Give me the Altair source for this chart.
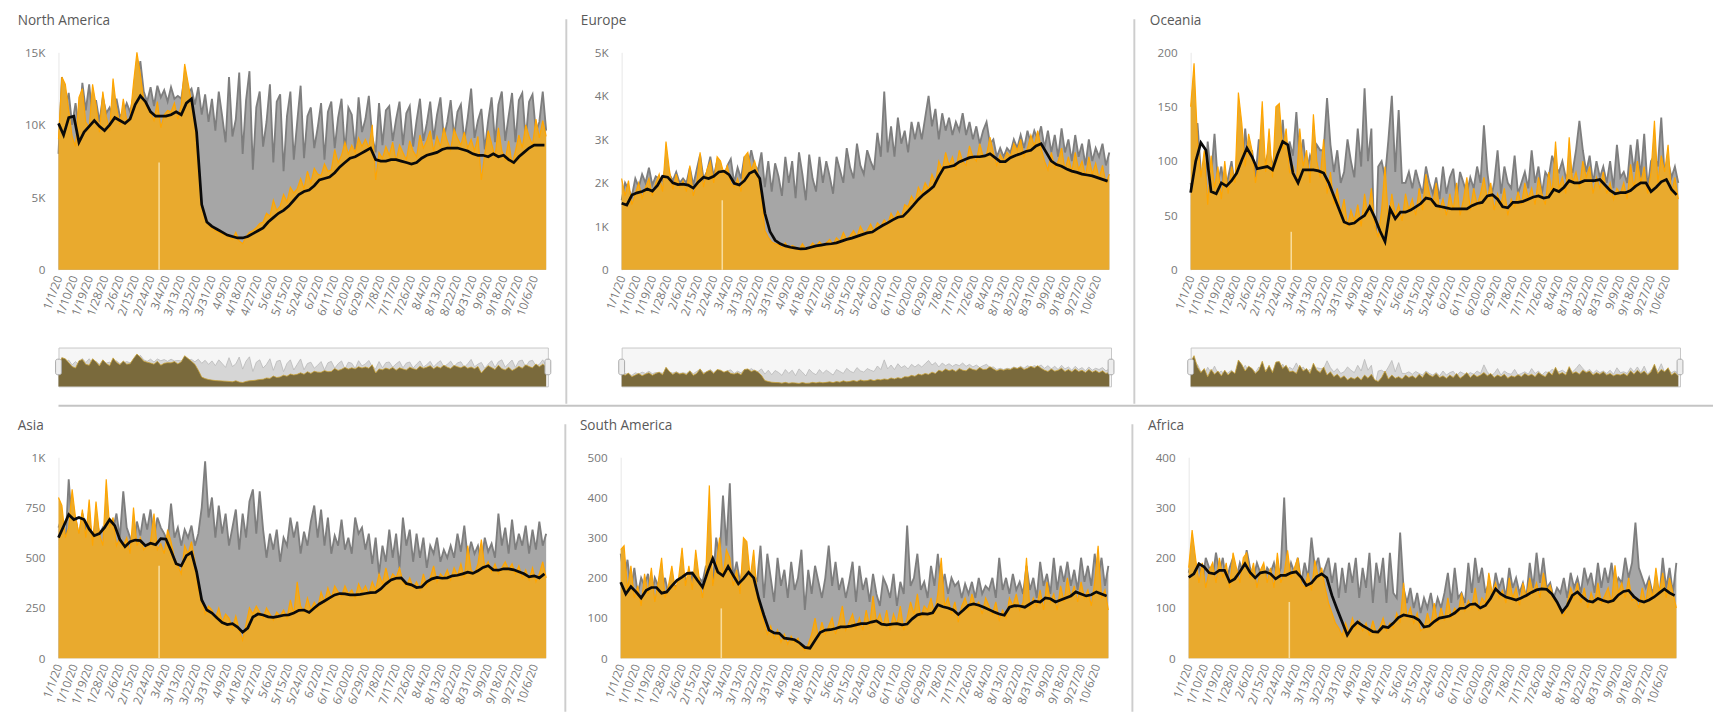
import altair as alt
import pandas as pd

# ---------------- data ----------------
START = pd.Timestamp("2020-01-01")
DAILY_STEP = 2   # daily series sampled every 2 days
AVG_STEP = 3     # 7-day average sampled every 3 days

REGIONS = ["North America", "Europe", "Oceania", "Asia", "South America", "Africa"]

NA_2019 = [8000, 13300, 11200, 12200, 10000, 11500, 9800, 12900, 11000, 12800,
           10500, 11700, 10200, 11900, 10800, 11200, 10500, 11800, 10600, 10800,
           11500, 10900, 11900, 12800, 14400, 12300, 11600, 12600, 11300, 12700,
           11900, 12400, 11600, 12600, 11800, 12000, 11800, 13400, 12200, 12500,
           11400, 12600, 10700, 12100, 10200, 11800, 9600, 12300, 10600, 8800,
           13300, 9200, 10400, 13600, 8000, 11700, 13700, 6900, 11200, 12300,
           8500, 10200, 12800, 7400, 11600, 12100, 6800, 10600, 12300, 7600,
           10200, 12700, 7700, 10600, 11200, 8400, 9800, 11500, 7600, 10900,
           11600, 8400, 10500, 11800, 8100, 11200, 10700, 8300, 11900, 9500,
           10400, 12000, 9200, 8100, 11500, 8600, 11000, 11300, 8900, 10400,
           11600, 8600, 10800, 11300, 8500, 10300, 11800, 8900, 10100, 11600,
           9000, 10700, 11900, 9100, 10200, 11700, 9200, 10900, 11400, 8900,
           10500, 12500, 9100, 10300, 11100, 8300, 10300, 11900, 8800, 11400,
           12300, 8900, 10600, 12200, 8800, 11700, 12200, 9000, 11600, 12100,
           9500, 10200, 12300, 9600]
NA_2020 = [9000, 13300, 12800, 11000, 9200, 8500, 11900, 12500, 10200, 9800,
           12800, 11400, 9500, 12300, 10600, 9600, 13200, 11200, 10000, 11800,
           10300, 10500, 12900, 15000, 13500, 11700, 11200, 10800, 10300, 11600,
           9800, 10700, 11000, 10900, 11500, 10400, 11400, 14200, 12900, 11600,
           10200, 7500, 4300, 3600, 3200, 2900, 2700, 2600, 2500, 2400,
           2300, 2100, 2600, 2000, 1800, 2300, 2600, 2700, 2900, 3200,
           3300, 3900, 3700, 4800, 4100, 4400, 5200, 4700, 5700, 5300,
           5600, 6300, 5600, 6800, 6000, 7000, 6600, 6500, 7300, 6800,
           6900, 8300, 7400, 7900, 8800, 8000, 8600, 8100, 9100, 8500,
           9000, 8400, 10000, 6200, 8100, 7700, 8500, 7900, 8800, 7500,
           8600, 8100, 7600, 8900, 8200, 7800, 9300, 8400, 8900, 9600,
           8200, 9200, 8500, 9800, 8900, 8300, 9700, 9100, 8600, 9500,
           8400, 9000, 8200, 9200, 6200, 8000, 9600, 8700, 7800, 9800,
           8200, 7600, 8900, 7300, 8200, 9300, 8400, 10000, 9200, 8600,
           10400, 9100, 10300, 9200]
NA_AVG = [10100, 9300, 10500, 10600, 8800, 9500, 9900, 10300, 9900, 9600,
          10000, 10500, 10300, 10100, 10400, 11400, 12000, 11600, 10900, 10600,
          10600, 10600, 10700, 10900, 10700, 11500, 11800, 9500, 4500, 3300,
          3000, 2800, 2600, 2400, 2300, 2200, 2200, 2300, 2500, 2700,
          2900, 3300, 3600, 3900, 4100, 4400, 4800, 5200, 5400, 5500,
          5800, 6200, 6300, 6400, 6700, 7100, 7400, 7700, 7800, 8000,
          8200, 8400, 7600, 7500, 7500, 7600, 7600, 7500, 7400, 7300,
          7400, 7700, 7900, 8000, 8100, 8300, 8400, 8400, 8400, 8300,
          8200, 8000, 7900, 7900, 7800, 8000, 7800, 7900, 7600, 7400,
          7800, 8100, 8400, 8600, 8600, 8600]

EU_2019 = [1600, 2000, 1850, 1700, 2100, 1900, 2200, 2000, 2350, 1950,
           2150, 2100, 2050, 2400, 2200, 2050, 2250, 2000, 2100, 2000,
           2350, 1950, 2300, 2650, 2100, 2250, 2600, 2150, 2500, 2300,
           2100, 2400, 2550, 2000, 2350, 2100, 2600, 2350, 2750, 2400,
           2300, 2700, 1900, 2500, 1800, 2450, 2150, 1700, 2600, 2000,
           2500, 1650, 2700, 2200, 1600, 2650, 2100, 1800, 2600, 2000,
           2500, 2150, 1750, 2600, 2300, 2000, 2800, 2350, 2100, 2900,
           2400, 2200, 2750, 2500, 2300, 3150, 2600, 4100, 2700, 3300,
           2600, 3500, 2900, 3200, 2700, 3400, 3000, 3400, 3000, 3500,
           4000, 3300, 3700, 3000, 3600, 3200, 3500, 3100, 3400, 3200,
           3600, 3100, 3400, 3000, 3300, 2900, 3200, 3400, 2900, 3000,
           2600, 2800, 2600, 2800, 2700, 3000, 2800, 3100, 2800, 3200,
           2900, 3200, 3000, 3300, 2800, 3200, 2700, 3100, 2600, 3250,
           2700, 3000, 2500, 3100, 2600, 2900, 2400, 3000, 2500, 2800,
           2600, 2900, 2400, 2700]
EU_2020 = [2100, 1700, 2050, 1500, 1750, 2000, 1650, 1900, 2100, 1700,
           2000, 2200, 1800, 2950, 2300, 1850, 2200, 1900, 2050, 1800,
           2400, 1700, 2000, 2700, 1900, 2300, 2500, 2000, 2600, 2500,
           2200, 2400, 2000, 1900, 2100, 1800, 2600, 2700, 2300, 2500,
           2200, 1700, 900, 750, 640, 600, 580, 500, 620, 480,
           560, 520, 450, 600, 470, 500, 620, 540, 650, 560,
           620, 700, 580, 740, 650, 860, 700, 780, 900, 760,
           1000, 850, 900, 1050, 880, 1080, 1000, 1150, 1050, 1300,
           1150, 1350, 1200, 1500, 1450, 1700, 1550, 1900, 1750, 2000,
           1850, 2200, 2000, 2500, 2300, 2700, 2400, 2600, 2300, 2750,
           2500, 2400, 2850, 2600, 2500, 2900, 2600, 2650, 3050, 2700,
           2400, 2650, 2500, 2700, 2600, 2900, 2750, 3000, 2600, 2800,
           3100, 2850, 3200, 2800, 2500, 2300, 2700, 2350, 2500, 2800,
           2300, 2600, 2250, 2700, 2300, 2500, 2150, 2600, 2200, 2450,
           2100, 2400, 2000, 2200]
EU_AVG = [1530, 1490, 1720, 1770, 1800, 1860, 1810, 1940, 2150, 2130,
          2000, 1960, 1970, 1950, 1880, 2020, 2130, 2100, 2150, 2250,
          2270, 2190, 1990, 1950, 2050, 2220, 2280, 2100, 1300, 880,
          680, 600, 550, 520, 500, 480, 490, 520, 550, 570,
          590, 600, 620, 660, 700, 730, 770, 810, 850, 870,
          950, 1020, 1080, 1150, 1210, 1230, 1350, 1480, 1620, 1730,
          1820, 1920, 2150, 2350, 2370, 2400, 2480, 2530, 2580, 2600,
          2600, 2620, 2670, 2580, 2490, 2490, 2580, 2630, 2670, 2720,
          2750, 2850, 2900, 2700, 2500, 2420, 2380, 2320, 2270, 2240,
          2200, 2180, 2160, 2120, 2080, 2040]

OC_2019 = [80, 60, 135, 90, 70, 118, 85, 125, 80, 95,
           70, 85, 100, 75, 105, 90, 130, 95, 110, 85,
           120, 90, 100, 110, 95, 115, 100, 138, 95, 118,
           105, 145, 100, 120, 90, 105, 95, 115, 110, 110,
           158, 115, 90, 110, 80, 90, 120, 100, 85, 130,
           95, 167, 100, 130, 5, 95, 100, 85, 120, 160,
           90, 147, 80, 80, 90, 75, 92, 80, 70, 95,
           80, 70, 85, 65, 95, 70, 85, 93, 65, 90,
           80, 70, 85, 75, 95, 80, 133, 90, 65, 80,
           110, 70, 95, 80, 75, 105, 70, 80, 90, 75,
           110, 80, 95, 70, 90, 85, 105, 95, 90, 100,
           85, 90, 90, 110, 137, 110, 90, 105, 80, 100,
           85, 95, 80, 100, 75, 115, 85, 90, 80, 115,
           90, 120, 85, 125, 75, 100, 105, 95, 140, 85,
           100, 85, 95, 80]
OC_2020 = [150, 190, 120, 85, 110, 60, 105, 75, 95, 65,
           100, 70, 95, 80, 163, 135, 95, 125, 110, 80,
           100, 155, 90, 130, 85, 150, 153, 110, 130, 90,
           95, 80, 130, 95, 110, 80, 143, 100, 85, 120,
           70, 90, 60, 75, 50, 65, 40, 55, 45, 60,
           40, 70, 50, 75, 40, 30, 55, 95, 45, 70,
           50, 60, 45, 70, 55, 65, 50, 75, 55, 88,
           70, 60, 80, 55, 65, 50, 70, 55, 80, 50,
           65, 85, 55, 75, 60, 70, 85, 65, 80, 55,
           70, 60, 75, 50, 65, 58, 72, 60, 80, 66,
           75, 60, 85, 70, 60, 90, 70, 118, 75, 85,
           70, 122, 80, 90, 75, 100, 85, 95, 70, 85,
           75, 90, 70, 80, 65, 75, 70, 80, 65, 97,
           75, 100, 80, 95, 70, 90, 137, 80, 105, 90,
           115, 70, 85, 65]
OC_AVG = [71, 100, 117, 110, 72, 70, 80, 77, 82, 89,
          101, 112, 104, 93, 94, 95, 92, 106, 118, 115,
          89, 80, 92, 92, 92, 91, 89, 80, 68, 56,
          44, 42, 43, 47, 50, 58, 48, 36, 26, 56,
          47, 53, 53, 55, 58, 61, 66, 65, 59, 58,
          57, 56, 56, 56, 56, 59, 61, 62, 68, 69,
          65, 58, 57, 62, 62, 63, 65, 67, 68, 66,
          67, 74, 72, 76, 82, 80, 80, 82, 82, 82,
          83, 78, 73, 70, 71, 71, 73, 77, 80, 80,
          72, 76, 81, 83, 74, 69]

AS_2019 = [650, 700, 560, 890, 650, 700, 600, 720, 650, 690,
           580, 700, 620, 650, 600, 680, 640, 720, 600, 830,
           650, 600, 560, 680, 610, 720, 640, 740, 600, 700,
           650, 620, 580, 770, 600, 650, 560, 640, 600, 660,
           560, 620, 750, 980, 700, 800, 600, 760, 620, 720,
           560, 650, 740, 540, 720, 600, 780, 840, 620, 830,
           640, 500, 620, 540, 640, 480, 600, 560, 700, 600,
           680, 520, 630, 560, 680, 760, 600, 740, 560, 700,
           520, 610, 560, 690, 540, 600, 520, 700, 620, 650,
           540, 620, 470, 600, 420, 560, 480, 640, 500, 620,
           450, 700, 560, 640, 480, 620, 500, 600, 450, 560,
           520, 600, 480, 540, 500, 560, 500, 620, 530, 660,
           500, 580, 520, 560, 480, 600, 530, 570, 500, 720,
           560, 650, 520, 690, 540, 620, 560, 660, 520, 640,
           540, 680, 560, 620]
AS_2020 = [800, 760, 600, 650, 840, 700, 620, 740, 600, 790,
           560, 780, 620, 560, 890, 650, 700, 560, 600, 560,
           600, 520, 750, 560, 600, 540, 560, 580, 720, 540,
           570, 520, 640, 580, 500, 460, 420, 560, 520, 580,
           480, 340, 300, 220, 260, 240, 200, 250, 180, 220,
           200, 150, 210, 140, 90, 170, 250, 220, 260, 230,
           200, 250, 220, 190, 230, 210, 240, 200, 290, 220,
           380, 260, 230, 300, 240, 280, 250, 330, 280, 350,
           300, 360, 330, 310, 360, 320, 340, 300, 370, 330,
           360, 320, 380, 340, 420, 370, 450, 380, 420, 400,
           450, 380, 360, 400, 350, 380, 340, 420, 360, 400,
           460, 380, 420, 400, 440, 390, 450, 410, 470, 400,
           560, 440, 420, 470, 590, 450, 480, 430, 470, 420,
           450, 480, 440, 470, 420, 460, 400, 440, 390, 450,
           380, 420, 480, 400]
AS_AVG = [600, 657, 715, 690, 700, 690, 642, 610, 620, 650,
          690, 660, 590, 555, 580, 588, 585, 560, 572, 565,
          595, 593, 535, 470, 460, 510, 527, 430, 290, 240,
          225, 200, 178, 168, 172, 155, 130, 150, 205, 220,
          215, 206, 203, 208, 214, 216, 225, 238, 240, 228,
          250, 270, 285, 300, 315, 322, 320, 315, 315, 318,
          322, 326, 328, 345, 370, 390, 398, 400, 372, 365,
          352, 355, 380, 395, 402, 398, 400, 410, 413, 420,
          428, 422, 435, 452, 460, 440, 438, 445, 445, 440,
          430, 420, 405, 410, 400, 420]

SA_2019 = [260, 200, 245, 170, 225, 160, 200, 180, 210, 150,
           200, 180, 170, 200, 160, 190, 180, 170, 220, 200,
           180, 210, 160, 200, 190, 230, 200, 180, 300, 250,
           405, 280, 435, 200, 240, 190, 230, 250, 160, 210,
           190, 280, 150, 260, 200, 140, 250, 180, 220, 150,
           240, 170, 200, 270, 120, 220, 160, 230, 190, 150,
           200, 280, 180, 240, 170, 200, 150, 190, 240, 140,
           230, 170, 200, 140, 210, 160, 130, 200, 180, 150,
           210, 130, 190, 160, 330, 180, 200, 260, 170, 190,
           150, 230, 180, 260, 170, 210, 160, 200, 180, 190,
           150, 185, 160, 190, 150, 200, 160, 180, 170, 200,
           150, 250, 170, 200, 160, 210, 170, 190, 160, 230,
           170, 200, 150, 240, 180, 210, 160, 250, 170, 230,
           190, 240, 180, 220, 170, 250, 190, 230, 180, 260,
           200, 250, 180, 230]
SA_2020 = [270, 280, 170, 230, 150, 180, 130, 210, 160, 225,
           140, 190, 250, 150, 180, 230, 170, 200, 275, 180,
           230, 170, 270, 200, 150, 220, 430, 180, 230, 300,
           200, 270, 250, 180, 220, 160, 300, 290, 200, 270,
           160, 120, 90, 60, 80, 50, 70, 40, 60, 35,
           55, 40, 50, 30, 20, 35, 60, 100, 50, 90,
           60, 80, 100, 60, 90, 130, 70, 90, 110, 75,
           100, 70, 120, 80, 155, 90, 110, 80, 120, 70,
           110, 85, 130, 70, 100, 140, 110, 160, 100, 130,
           120, 150, 110, 160, 250, 130, 150, 110, 140, 90,
           130, 150, 120, 160, 130, 140, 110, 150, 130, 110,
           140, 95, 120, 100, 150, 130, 160, 120, 140, 250,
           120, 150, 130, 170, 120, 190, 140, 160, 120, 180,
           140, 200, 150, 180, 140, 190, 150, 170, 130, 190,
           280, 150, 170, 120]
SA_AVG = [189, 160, 178, 165, 150, 169, 176, 176, 162, 165,
          180, 194, 202, 211, 212, 194, 177, 215, 248, 214,
          205, 228, 206, 185, 198, 214, 200, 148, 107, 70,
          63, 62, 50, 48, 46, 38, 27, 25, 45, 64,
          70, 71, 74, 78, 78, 80, 83, 86, 86, 90,
          93, 85, 83, 85, 86, 83, 85, 98, 108, 111,
          110, 113, 133, 128, 125, 120, 109, 120, 132, 135,
          132, 127, 121, 115, 110, 107, 127, 131, 130, 127,
          135, 142, 140, 150, 148, 140, 145, 150, 155, 165,
          160, 155, 158, 165, 160, 155]

AF_2019 = [170, 200, 160, 190, 150, 200, 180, 160, 210, 170,
           200, 150, 180, 200, 160, 190, 170, 215, 180, 160,
           190, 170, 150, 180, 170, 190, 160, 180, 320, 160,
           190, 170, 200, 150, 190, 160, 240, 180, 200, 160,
           180, 200, 150, 190, 120, 180, 130, 190, 150, 200,
           120, 180, 140, 210, 110, 190, 150, 200, 110, 210,
           130, 120, 250, 140, 110, 140, 100, 130, 90, 120,
           100, 130, 90, 120, 100, 130, 170, 110, 180, 120,
           130, 110, 190, 130, 200, 150, 180, 130, 150, 120,
           170, 140, 160, 120, 180, 140, 160, 130, 150, 120,
           190, 140, 210, 150, 200, 140, 150, 120, 140, 130,
           160, 120, 170, 140, 160, 130, 180, 150, 170, 130,
           190, 140, 180, 150, 190, 140, 160, 150, 200, 160,
           190, 270, 180, 160, 140, 160, 130, 150, 120, 200,
           140, 180, 130, 190]
AF_2020 = [180, 255, 200, 150, 190, 140, 175, 190, 150, 200,
           160, 190, 140, 210, 180, 150, 200, 210, 160, 190,
           140, 175, 190, 150, 180, 140, 210, 150, 170, 215,
           160, 180, 200, 150, 140, 170, 135, 195, 160, 180,
           140, 110, 90, 70, 60, 45, 70, 50, 80, 60,
           75, 55, 70, 45, 75, 50, 60, 80, 55, 70,
           60, 90, 70, 150, 80, 100, 70, 90, 55, 60,
           90, 65, 110, 70, 100, 75, 120, 80, 100, 90,
           130, 95, 115, 100, 140, 95, 120, 110, 170, 130,
           150, 120, 135, 110, 160, 120, 140, 105, 150, 120,
           160, 130, 150, 120, 170, 135, 145, 120, 110, 95,
           85, 110, 140, 120, 150, 110, 140, 100, 130, 110,
           150, 110, 125, 140, 110, 185, 130, 150, 120, 160,
           115, 120, 100, 140, 110, 155, 120, 180, 130, 170,
           120, 160, 130, 100]
AF_AVG = [161, 168, 188, 182, 170, 168, 175, 175, 152, 158,
          172, 188, 171, 160, 170, 172, 168, 158, 165, 165,
          170, 172, 161, 145, 150, 162, 168, 160, 125, 98,
          72, 46, 62, 72, 65, 59, 53, 52, 63, 61,
          70, 81, 86, 84, 82, 76, 62, 64, 73, 80,
          82, 84, 90, 99, 100, 107, 108, 100, 105, 119,
          138, 128, 122, 119, 116, 120, 125, 131, 136, 138,
          137, 128, 112, 92, 105, 125, 132, 122, 114, 112,
          119, 115, 112, 115, 126, 133, 135, 123, 115, 112,
          116, 122, 130, 138, 130, 125]

Y_MAX = [15000, 5000, 200, 1000, 500, 400]
Y_TICKS = [[0, 5000, 10000, 15000],
           [0, 1000, 2000, 3000, 4000, 5000],
           [0, 50, 100, 150, 200],
           [0, 250, 500, 750, 1000],
           [0, 100, 200, 300, 400, 500],
           [0, 100, 200, 300, 400]]
X_TICK_LABELS = ["1/1/20", "1/10/20", "1/19/20", "1/28/20", "2/6/20", "2/15/20", "2/24/20",
                 "3/4/20", "3/13/20", "3/22/20", "3/31/20", "4/9/20", "4/18/20", "4/27/20",
                 "5/6/20", "5/15/20", "5/24/20", "6/2/20", "6/11/20", "6/20/20", "6/29/20",
                 "7/8/20", "7/17/20", "7/26/20", "8/4/20", "8/13/20", "8/22/20", "8/31/20",
                 "9/9/20", "9/18/20", "9/27/20", "10/6/20"]
GAP_DATE = "2020-02-29T00:00:00"
GAP_TOP = [7400, 1600, 35, 460, 124, 112]

SERIES = [(NA_2019, NA_2020, NA_AVG), (EU_2019, EU_2020, EU_AVG), (OC_2019, OC_2020, OC_AVG),
          (AS_2019, AS_2020, AS_AVG), (SA_2019, SA_2020, SA_AVG), (AF_2019, AF_2020, AF_AVG)]

# ---------------- style ----------------
FONT = "Open Sans"
W = 504
H_TOP = 224
H_BOT = 207
NAV_H = 40
NAV_GAP = 30
AX_EXT = 42
SPACING = 14
TITLE_OFFSET = 19
GRAY_FILL = "#A6A6A6"
GRAY_LINE = "#7E7E7E"
ORANGE_FILL = "#E9AA2E"
ORANGE_LINE = "#FFA500"
LABEL_COLOR = "#777777"
SEP_COLOR = "#CDCDCD"


def to_dt(lbl):
    m, d, _ = lbl.split("/")
    return alt.DateTime(year=2020, month=int(m), date=int(d))


TICK_VALUES = [to_dt(l) for l in X_TICK_LABELS]
X_DOMAIN = [alt.DateTime(year=2020, month=1, date=1), alt.DateTime(year=2020, month=10, date=14)]


def frame(values, step):
    dates = [(START + pd.Timedelta(days=step * i)).strftime("%Y-%m-%dT00:00:00") for i in range(len(values))]
    return pd.DataFrame({"date": dates, "value": values})


def x_enc():
    return alt.X("date:T", title=None, scale=alt.Scale(domain=X_DOMAIN),
                 axis=alt.Axis(values=TICK_VALUES, format="%-m/%-d/%y", labelAngle=-70,
                               labelFontSize=12, labelColor=LABEL_COLOR, labelPadding=6,
                               ticks=False, domain=False, grid=False, labelOverlap=False))


def y_enc(ymax, ticks):
    return alt.Y("value:Q", title=None, scale=alt.Scale(domain=[0, ymax], nice=False),
                 axis=alt.Axis(values=ticks,
                               labelExpr="datum.value >= 1000 ? (datum.value / 1000) + 'K' : datum.value",
                               ticks=False, grid=False, domain=True, domainColor="#E6E6E6",
                               labelColor=LABEL_COLOR, labelFontSize=12, labelPadding=14,
                               minExtent=AX_EXT, maxExtent=AX_EXT))


def main_chart(i, height):
    g19, g20, avg = SERIES[i]
    d19 = frame(g19, DAILY_STEP)
    d20 = frame(g20, DAILY_STEP)
    dav = frame(avg, AVG_STEP)
    gap = pd.DataFrame({"date": [GAP_DATE], "value": [0], "top": [GAP_TOP[i]]})
    X = x_enc()
    Y = y_enc(Y_MAX[i], Y_TICKS[i])
    layers = [
        alt.Chart(d19).mark_area(color=GRAY_FILL).encode(x=X, y=Y),
        alt.Chart(d19).mark_line(color=GRAY_LINE, strokeWidth=1.9).encode(x=X, y=Y),
        alt.Chart(d20).mark_area(color=ORANGE_FILL).encode(x=X, y=Y),
        alt.Chart(d20).mark_line(color=ORANGE_LINE, strokeWidth=1.2).encode(x=X, y=Y),
        alt.Chart(gap).mark_rule(color="#F8DC9C", strokeWidth=1.6).encode(x=X, y=Y, y2="top:Q"),
        alt.Chart(dav).mark_line(color="#0A0A0A", strokeWidth=2.8).encode(x=X, y=Y),
    ]
    return alt.layer(*layers).properties(
        width=W, height=height,
        title=alt.TitleParams(REGIONS[i], anchor="start", frame="group", dx=-AX_EXT, offset=TITLE_OFFSET,
                              fontSize=14, font=FONT, color="#595959", fontWeight="normal"))


def nav_chart(i):
    g19, g20, _ = SERIES[i]
    d19 = frame(g19, DAILY_STEP)
    d20 = frame(g20, DAILY_STEP)
    X = alt.X("date:T", title=None, axis=None, scale=alt.Scale(domain=X_DOMAIN))
    Y = alt.Y("value:Q", title=None, axis=None, scale=alt.Scale(domain=[0, Y_MAX[i] * 1.2], nice=False))
    handles = pd.DataFrame({"date": ["2020-01-01T00:00:00", "2020-10-14T00:00:00"]})
    layers = [
        alt.Chart(d19).mark_area(color="#D6D6D6").encode(x=X, y=Y),
        alt.Chart(d19).mark_line(color="#B8B8B8", strokeWidth=0.8).encode(x=X, y=Y),
        alt.Chart(d20).mark_area(color="#7A6A3C").encode(x=X, y=Y),
        alt.Chart(d20).mark_line(color="#C9A235", strokeWidth=0.8).encode(x=X, y=Y),
        alt.Chart(handles).mark_tick(color="#EDEDED", stroke="#A8A8A8", strokeWidth=1,
                                     thickness=6, size=16, cornerRadius=2, orient="vertical",
                                     opacity=1).encode(x=X, y=alt.value(NAV_H / 2)),
    ]
    return alt.layer(*layers).properties(width=W, height=NAV_H,
                                         view=alt.ViewBackground(stroke="#C6C6C6", fill="#F6F6F6"))


SEP_DF = pd.DataFrame({"s": [0]})


def vsep(top, bottom, width, at):
    # decoration: a thin separator between panels, measured from the plot top of its row
    return alt.Chart(SEP_DF).mark_rule(color=SEP_COLOR, strokeWidth=2).encode(
        x=alt.value(at), y=alt.value(top), y2=alt.value(bottom)).properties(width=width, height=1)


def hsep(w, h):
    return alt.Chart(SEP_DF).mark_rule(color="#C4C4C4", strokeWidth=2).encode(
        x=alt.value(0), x2=alt.value(w), y=alt.value(1)).properties(width=w, height=h)


def top_panel(i):
    return alt.vconcat(main_chart(i, H_TOP), nav_chart(i), spacing=NAV_GAP)


row1 = alt.hconcat(top_panel(0), vsep(-34, 362, 2, 1), top_panel(1), vsep(-34, 362, 8, 6), top_panel(2),
                   spacing=SPACING)
row2 = alt.hconcat(main_chart(3, H_BOT), vsep(-34, 262, 2, 1), main_chart(4, H_BOT), vsep(-34, 262, 8, 6),
                   main_chart(5, H_BOT), spacing=SPACING)
TOTAL_W = 3 * (AX_EXT + W) + (2 + 2 * SPACING) + (8 + 2 * SPACING)

chart = alt.vconcat(row1, hsep(TOTAL_W, 15), row2, spacing=0).properties(
    padding={"left": 10, "top": -4, "right": 0, "bottom": 0}, background="white"
).configure_view(stroke=None).configure_axis(labelFont=FONT).configure_title(font=FONT)

chart.save("out.html", embed_options={"renderer": "svg", "actions": False})
